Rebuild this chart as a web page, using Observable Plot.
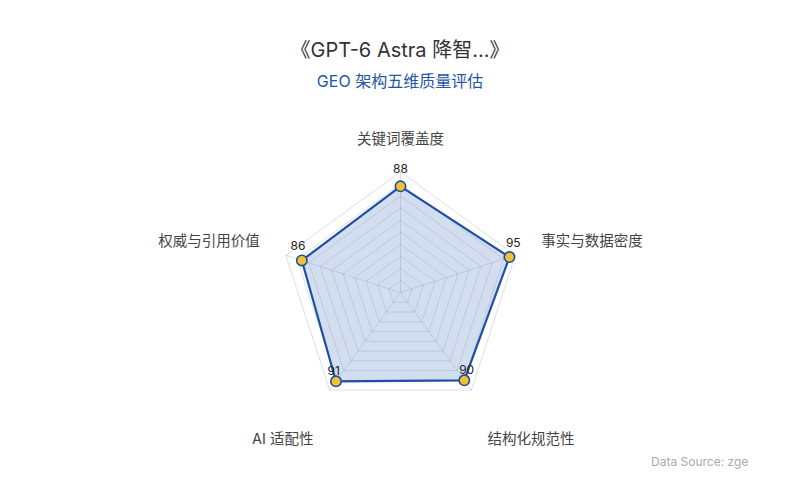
<!DOCTYPE html>
<html>
<head>
<meta charset="utf-8">
<script src="https://cdn.jsdelivr.net/npm/d3@7"></script>
<script src="https://cdn.jsdelivr.net/npm/@observablehq/plot@0.6"></script>
<style>
  html, body { margin: 0; padding: 0; background: #fff; }
  #wrap { position: relative; width: 800px; height: 500px; overflow: hidden;
          font-family: Inter, "Noto Sans CJK SC", "Noto Sans", sans-serif; }
  #title { position: absolute; left: 0; width: 800px; top: 36px; text-align: center;
           font-size: 20px; color: #333; line-height: 28px; }
  #subtitle { position: absolute; left: 0; width: 800px; top: 70px; text-align: center;
              font-size: 16px; color: #2456a6; line-height: 22px; }
  #caption { position: absolute; left: 651px; top: 454px;
             white-space: nowrap; font-size: 12px; color: #aaa; line-height: 16px; }
  #chart { position: absolute; left: 0; top: 0; }
</style>
</head>
<body>
<div id="wrap">
  <div id="chart"></div>
  <div id="title"></div>
  <div id="subtitle"></div>
  <div id="caption"></div>
</div>
<script>
const titleText = "《GPT-6 Astra 降智...》";
const subtitleText = "GEO 架构五维质量评估";
const captionText = "Data Source: zge";
const categories = ["关键词覆盖度", "事实与数据密度", "结构化规范性", "AI 适配性", "权威与引用价值"];
const values = [88, 95, 90, 91, 86];
const ringLevels = [10, 20, 30, 40, 50, 60, 70, 80, 90, 100];
const maxValue = 100;

document.getElementById("title").textContent = titleText;
document.getElementById("subtitle").textContent = subtitleText;
document.getElementById("caption").textContent = captionText;

const W = 800, H = 500;
const k = 1.206;            // px per unit
const cx = 400, cy = 292;   // centre in px
const n = categories.length;
const ang = i => Math.PI / 2 - i * 2 * Math.PI / n;

const pts = values.map((v, i) => ({
  cat: categories[i], v, a: ang(i),
  x: v * Math.cos(ang(i)), y: v * Math.sin(ang(i))
}));
const poly = [...pts, pts[0]];

const rings = ringLevels.flatMap(l =>
  d3.range(n + 1).map(j => ({ level: l, x: l * Math.cos(ang(j % n)), y: l * Math.sin(ang(j % n)) })));
const spokes = categories.map((c, i) => ({ x: maxValue * Math.cos(ang(i)), y: maxValue * Math.sin(ang(i)) }));

const labelR = 122.7;
const axisLabels = categories.map((c, i) => {
  const a = ang(i), cs = Math.cos(a), sn = Math.sin(a);
  const anchor = Math.abs(cs) < 0.1 ? "middle" : (cs > 0 ? "start" : "end");
  const dy = sn > 0 ? -5 : 27;
  return { c, x: labelR * cs, y: labelR * sn, anchor, dy };
});

const chart = Plot.plot({
  width: W, height: H,
  margin: 0,
  x: { domain: [-cx / k, (W - cx) / k], axis: null },
  y: { domain: [-(H - cy) / k, cy / k], axis: null },
  style: { fontFamily: 'Inter, "Noto Sans CJK SC", sans-serif', background: "transparent" },
  marks: [
    Plot.line(poly, { x: "x", y: "y", fill: "#5a80c8", fillOpacity: 0.27, stroke: "none" }),
    Plot.line(rings, { x: "x", y: "y", z: "level", stroke: "#8f9bb3", strokeOpacity: 0.32, strokeWidth: 1 }),
    Plot.link(spokes, { x1: 0, y1: 0, x2: "x", y2: "y", stroke: "#8f9bb3", strokeOpacity: 0.32, strokeWidth: 1 }),
    Plot.line(poly, { x: "x", y: "y", stroke: "#1f4fa3", strokeWidth: 2.2 }),
    Plot.dot(pts, { x: "x", y: "y", r: 5.2, fill: "#f2c12e", stroke: "#1f4fa3", strokeWidth: 1.6 }),
    Plot.text(pts, {
      x: d => d.x + 4 * Math.cos(d.a) / k,
      y: d => d.y + (13 + 4 * Math.sin(d.a)) / k,
      text: d => String(d.v), fontSize: 12, fill: "#222", lineAnchor: "middle"
    }),
    ...["start", "middle", "end"].flatMap(an => [-5, 27].map(dy =>
      Plot.text(axisLabels.filter(d => d.anchor === an && d.dy === dy), {
        x: "x", y: "y", text: "c", textAnchor: an, dy, lineAnchor: "middle",
        fontSize: 14.5, fill: "#444"
      })))
  ]
});
document.getElementById("chart").appendChild(chart);
</script>
</body>
</html>
